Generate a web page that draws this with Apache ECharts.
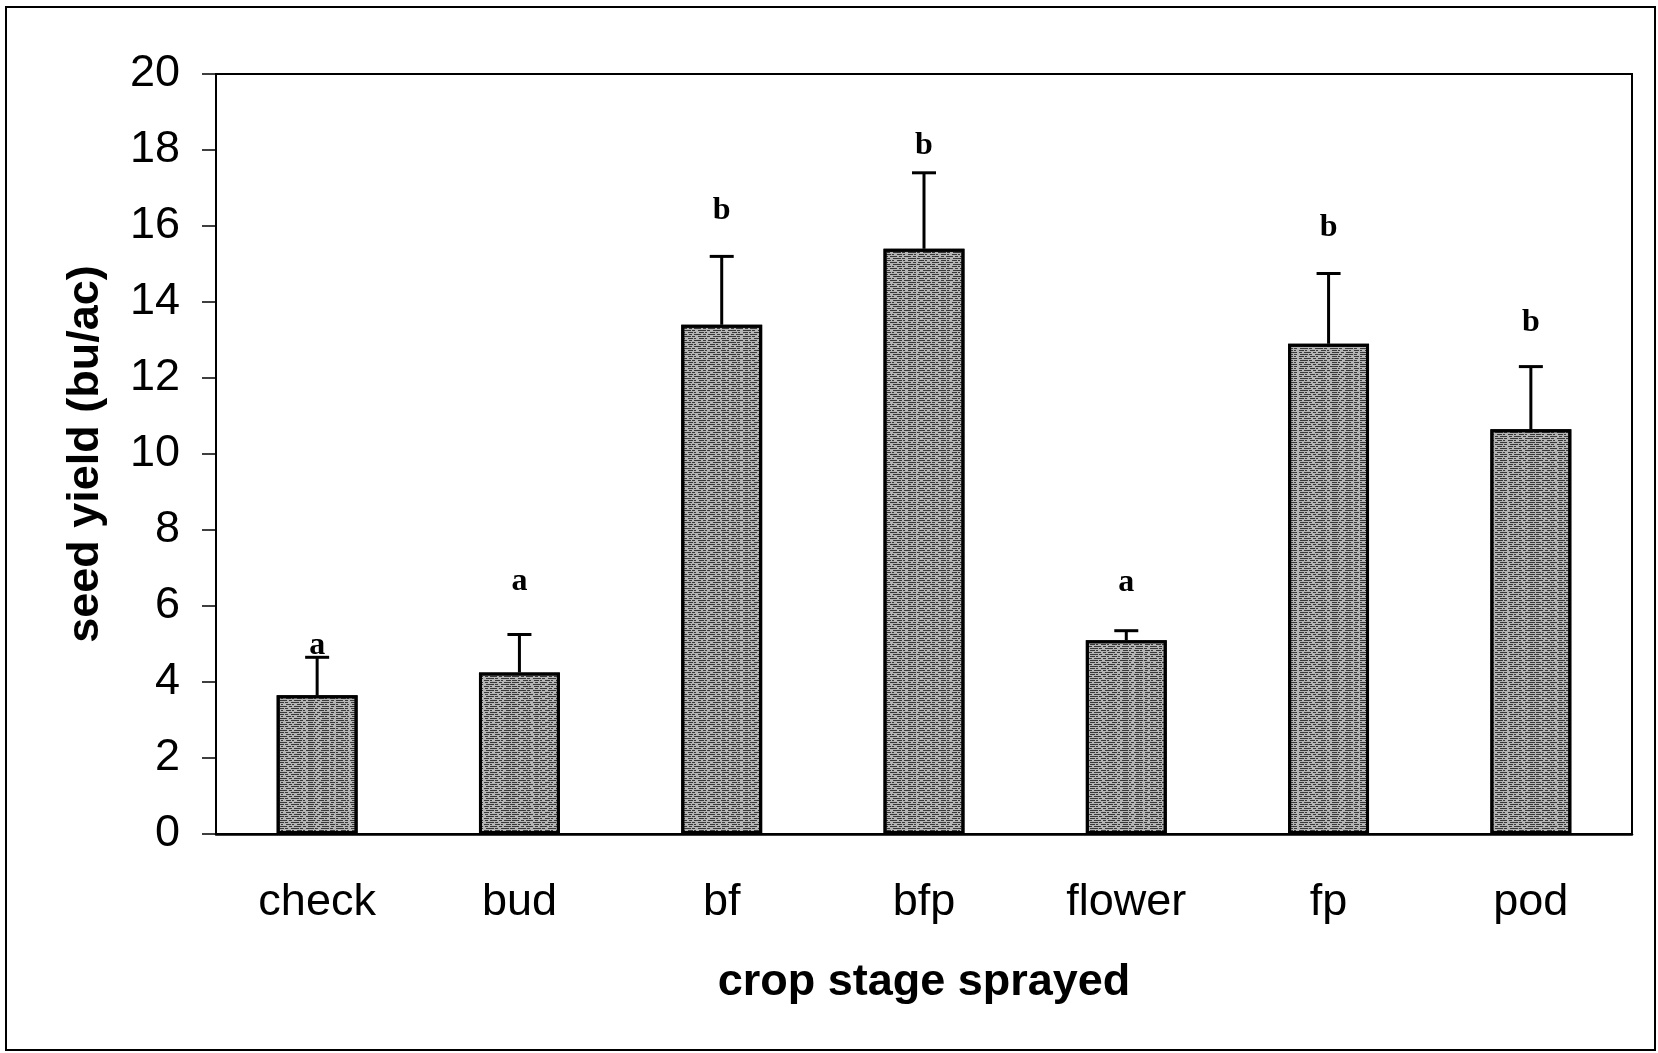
<!DOCTYPE html>
<html>
<head>
<meta charset="utf-8">
<title>seed yield by crop stage sprayed</title>
<script src="https://cdn.jsdelivr.net/npm/echarts@6/dist/echarts.min.js"></script>
<style>
  html, body { margin: 0; padding: 0; background: #fff; }
  #chart { width: 1658px; height: 1053px; }
</style>
</head>
<body>
<div id="chart"></div>
<script>
// values
const stages = ["check", "bud", "bf", "bfp", "flower", "fp", "pod"];
const yieldMean = [3.65, 4.25, 13.4, 15.4, 5.1, 12.9, 10.65];
const yieldErr = [1.0, 1.0, 1.8, 2.0, 0.25, 1.85, 1.65];
const letters = ["a", "a", "b", "b", "a", "b", "b"];
const letterY = [4.95, 6.63, 16.4, 18.1, 6.6, 15.95, 13.45];
const yTicks = [0, 2, 4, 6, 8, 10, 12, 14, 16, 18, 20];

const sans = "'Liberation Sans', Arial, sans-serif";
const chart = echarts.init(document.getElementById("chart"));

const option = {
  backgroundColor: "#fff",
  animation: false,
  graphic: [
    {
      type: "rect",
      shape: { x: 6, y: 7, width: 1649, height: 1043 },
      style: { fill: "none", stroke: "#000", lineWidth: 2 },
    },
  ],
  grid: {
    left: 216,
    right: 26,
    top: 74,
    bottom: 219,
    show: true,
    borderColor: "#000",
    borderWidth: 2,
  },
  xAxis: {
    type: "category",
    data: stages,
    name: "crop stage sprayed",
    nameLocation: "middle",
    nameGap: 126,
    nameTextStyle: { fontFamily: sans, fontWeight: "bold", fontSize: 45, color: "#000" },
    axisLine: { lineStyle: { color: "#000", width: 2.5 } },
    axisTick: { length: 15, lineStyle: { color: "#000", width: 1.5 } },
    axisLabel: { fontFamily: sans, fontSize: 45, color: "#000", margin: 46 },
  },
  yAxis: {
    type: "value",
    min: yTicks[0],
    max: yTicks[yTicks.length - 1],
    interval: 2,
    name: "seed yield (bu/ac)",
    nameLocation: "middle",
    nameGap: 108,
    nameTextStyle: { fontFamily: sans, fontWeight: "bold", fontSize: 45, color: "#000" },
    axisLine: { show: true, lineStyle: { color: "#000", width: 2 } },
    axisTick: { show: true, length: 14, lineStyle: { color: "#000", width: 1.5 } },
    axisLabel: { fontFamily: sans, fontSize: 45, color: "#000", margin: 36 },
    splitLine: { show: false },
  },
  series: [
    {
      type: "bar",
      data: yieldMean,
      barWidth: "40%",
      itemStyle: {
        color: "#b4b4b4",
        borderColor: "#000",
        borderWidth: 3,
        decal: {
          symbol: "rect",
          symbolSize: 1,
          dashArrayX: [[7, 2, 3, 2], [3, 3, 8, 1], [5, 1, 2, 3]],
          dashArrayY: [1, 1],
          color: "rgba(25,25,25,0.8)",
        },
      },
      z: 2,
    },
    {
      type: "custom",
      data: yieldMean.map((v, i) => [i, v, v + yieldErr[i]]),
      renderItem: function (params, api) {
        const base = api.coord([api.value(0), api.value(1)]);
        const top = api.coord([api.value(0), api.value(2)]);
        const cap = 12;
        return {
          type: "group",
          children: [
            {
              type: "line",
              shape: { x1: base[0], y1: base[1], x2: top[0], y2: top[1] },
              style: { stroke: "#000", lineWidth: 3 },
            },
            {
              type: "line",
              shape: { x1: top[0] - cap, y1: top[1], x2: top[0] + cap, y2: top[1] },
              style: { stroke: "#000", lineWidth: 3 },
            },
          ],
        };
      },
      z: 3,
    },
    {
      type: "custom",
      data: letterY.map((v, i) => [i, v]),
      renderItem: function (params, api) {
        const p = api.coord([api.value(0), api.value(1)]);
        return {
          type: "text",
          x: p[0],
          y: p[1],
          style: {
            text: letters[params.dataIndex],
            fill: "#000",
            font: "bold 32px 'Liberation Serif', 'Times New Roman', serif",
            align: "center",
            verticalAlign: "middle",
          },
        };
      },
      z: 4,
    },
  ],
};

chart.setOption(option);
</script>
</body>
</html>
